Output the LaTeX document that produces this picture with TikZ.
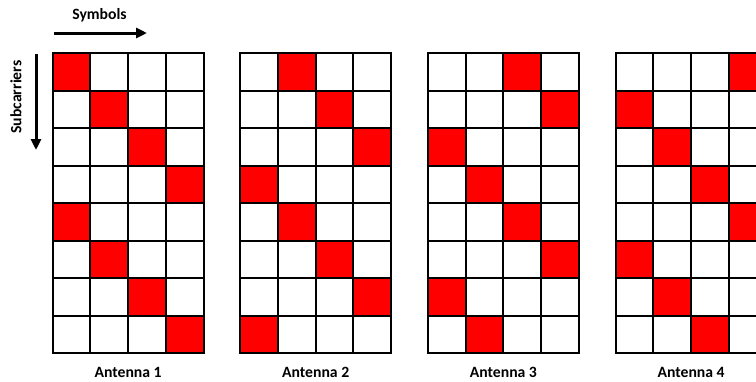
\documentclass[tikz,border=0pt]{standalone}
\usepackage{fontspec}
\setmainfont{Carlito}
\usetikzlibrary{arrows.meta}
\definecolor{cellred}{RGB}{255,0,0}
\tikzset{
  cell/.style={draw=black, line width=2pt, fill=white, minimum width=37.7pt, minimum height=37.5pt, inner sep=0pt, outer sep=0pt, anchor=north west},
  redcell/.style={cell, fill=cellred},
  lbl/.style={font=\fontsize{15.7}{17}\selectfont\bfseries, inner sep=0pt},
  arr/.style={line width=3pt, -{Triangle[length=11pt,width=10pt]}}
}
\begin{document}
\begin{tikzpicture}[x=1pt,y=-1pt]
\clip (0,0) rectangle (756,381);
\fill[white] (0,0) rectangle (756,381);
\foreach \a/\xo in {1/52.7, 2/240.3, 3/428, 4/615.7} {
  \foreach \r in {0,...,7} {
    \foreach \c in {0,...,3} {
      \pgfmathtruncatemacro{\redc}{mod(\r+\a-1,4)}
      \ifnum\redc=\c
        \node[redcell] (a\a r\r c\c) at ({\xo+\c*37.7},{53+\r*37.5}) {};
      \else
        \node[cell] (a\a r\r c\c) at ({\xo+\c*37.7},{53+\r*37.5}) {};
      \fi
    }
  }
  \node[lbl] (lab\a) at ({\xo+75.4},372) {Antenna \a};
}
\node[lbl] (sym) at (99.5,15) {Symbols};
\node[lbl, rotate=90] (sub) at (16,97) {Subcarriers};
\coordinate (hs) at (54,33);
\coordinate (he) at (147,33);
\coordinate (vs) at (36,54);
\coordinate (ve) at (36,150);
\draw[arr] (hs) -- (he);
\draw[arr] (vs) -- (ve);
\end{tikzpicture}
\end{document}
